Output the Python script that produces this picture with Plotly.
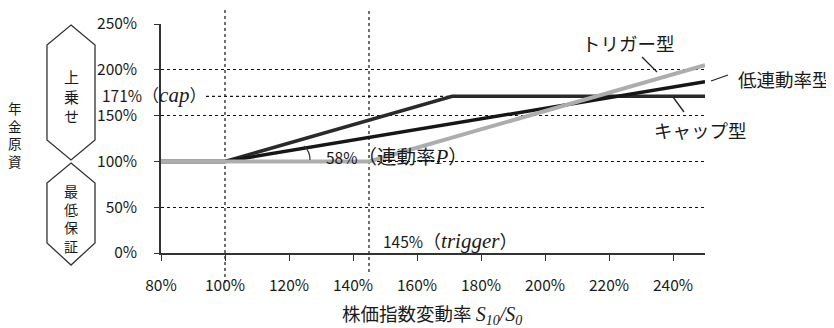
import plotly.graph_objects as go

# ---------------- data (percent) ----------------
cap_x = [80, 100, 171, 250]
cap_y = [100, 100, 171, 171]
low_x = [80, 100, 250]
low_y = [100, 100, 187]
trig_x = [80, 145, 250]
trig_y = [100, 100, 205]

x_ticks = [80, 100, 120, 140, 160, 180, 200, 220, 240]
x_ticklabels = ["80%", "100%", "120%", "140%", "160%", "180%", "200%", "220%", "240%"]
y_ticks = [0, 50, 100, 150, 200, 250]
y_ticklabels = ["0%", "50%", "100%", "150%", "200%", "250%"]

CAP_LEVEL = 171
TRIGGER_LEVEL = 145
BASE_LEVEL = 100

# ---------------- layout constants ----------------
PAGE_OFF = 8                      # default body margin of the html page
W, H = 834 - PAGE_OFF, 328 - PAGE_OFF
PLOT_X0, PLOT_X1 = 161, 705       # plot area in window pixels
PLOT_Y0, PLOT_Y1 = 24, 253
L = PLOT_X0 - PAGE_OFF
T = PLOT_Y0 - PAGE_OFF
PW = PLOT_X1 - PLOT_X0
PH = PLOT_Y1 - PLOT_Y0
R = W - L - PW
B = H - T - PH
X_RANGE = [80, 250]

def px(x):
    return (x - PLOT_X0) / PW

def py(y):
    return (PLOT_Y1 - y) / PH

FONT = "Noto Sans CJK JP, Noto Sans, sans-serif"
SERIF = "Liberation Serif, DejaVu Serif, serif"
TXT = "#1a1a1a"

def serif_it(s, size):
    return f"<span style=\"font-family:{SERIF};font-size:{size}px\"><i>{s}</i></span>"

def sized(s, size):
    return f"<span style=\"font-size:{size}px\">{s}</span>"

fig = go.Figure()
fig.add_trace(go.Scatter(x=cap_x, y=cap_y, mode="lines",
                         line=dict(color="#2a2a2a", width=3.5), name="キャップ型"))
fig.add_trace(go.Scatter(x=low_x, y=low_y, mode="lines",
                         line=dict(color="#161616", width=3.5), name="低連動率型"))
fig.add_trace(go.Scatter(x=trig_x, y=trig_y, mode="lines",
                         line=dict(color="#adadad", width=4), name="トリガー型"))

shapes = []
dash = "3px,3px"
# vertical reference lines (extend beyond the plot area)
shapes.append(dict(type="line", xref="x", yref="paper", x0=BASE_LEVEL, x1=BASE_LEVEL,
                   y0=py(283), y1=py(10), line=dict(color="#111", width=1.2, dash=dash), layer="below"))
shapes.append(dict(type="line", xref="x", yref="paper", x0=TRIGGER_LEVEL, x1=TRIGGER_LEVEL,
                   y0=py(272), y1=py(10), line=dict(color="#111", width=1.2, dash=dash), layer="below"))
# cap reference line
shapes.append(dict(type="line", xref="paper", yref="y", x0=px(206),
                   x1=(CAP_LEVEL - X_RANGE[0]) / (X_RANGE[1] - X_RANGE[0]),
                   y0=CAP_LEVEL, y1=CAP_LEVEL, line=dict(color="#111", width=1.2, dash=dash), layer="below"))

# hexagons on the left
def hexagon(xl, xr, ytop, yshoulder1, yshoulder2, ybot):
    xm = (xl + xr) / 2
    pts = [(xm, ytop), (xr, yshoulder1), (xr, yshoulder2), (xm, ybot), (xl, yshoulder2), (xl, yshoulder1)]
    path = "M " + " L ".join(f"{px(a):.4f},{py(b):.4f}" for a, b in pts) + " Z"
    return dict(type="path", xref="paper", yref="paper", path=path,
                line=dict(color="#333", width=1.3), fillcolor="rgba(0,0,0,0)")

shapes.append(hexagon(47, 95, 25, 45, 140, 160))
shapes.append(hexagon(47, 95, 163, 183, 243, 265))

# leader lines for series labels
def seg(x0, y0, x1, y1):
    return dict(type="line", xref="paper", yref="paper", x0=px(x0), y0=py(y0), x1=px(x1), y1=py(y1),
                line=dict(color="#222", width=1.3))

shapes.append(seg(642, 57, 657, 72))
shapes.append(seg(711, 81, 728, 75))
shapes.append(seg(673, 97, 684, 112))

# small angle arc for participation rate
shapes.append(dict(type="path", xref="paper", yref="paper",
                   path=f"M {px(304):.4f},{py(146):.4f} Q {px(310):.4f},{py(151):.4f} {px(310):.4f},{py(160):.4f}",
                   line=dict(color="#333", width=1.2)))

ann = []
def text(x, y, s, size=14, xanchor="center", yanchor="middle", font=FONT):
    ann.append(dict(xref="paper", yref="paper", x=px(x), y=py(y), text=s, showarrow=False,
                    xanchor=xanchor, yanchor=yanchor, font=dict(family=font, size=size, color=TXT)))

text(15, 134, "<br>".join("年金原資"), size=13.5)
text(71, 96, "<br>".join("上乗せ"), size=15)
text(71, 218, "<br>".join("最低保証"), size=14)

text(100, 94, f"{CAP_LEVEL}%" + sized("（", 17) + serif_it("cap", 21) + sized("）", 17), size=15.5, xanchor="left")
text(324, 155, "58%" + sized("（連動率", 19.5) + serif_it("P", 21) + sized("）", 19.5), size=15.5, xanchor="left")
text(381, 240, f"{TRIGGER_LEVEL}%" + sized("（", 18) + serif_it("trigger", 21) + sized("）", 18), size=15.5, xanchor="left")
text(628, 43, "トリガー型", size=18.5)
text(736, 79, "低連動率型", size=18.5, xanchor="left")
text(700, 130, "キャップ型", size=18.5)
text(432, 314, "株価指数変動率 " + serif_it("S<sub>10</sub>/S<sub>0</sub>", 20), size=18.5)

fig.update_layout(
    template="none",
    width=W, height=H, autosize=False,
    margin=dict(l=L, r=R, t=T, b=B, autoexpand=False),
    paper_bgcolor="white", plot_bgcolor="white",
    showlegend=False,
    font=dict(family=FONT, size=15.5, color=TXT),
    shapes=shapes, annotations=ann,
    xaxis=dict(range=X_RANGE, tickvals=x_ticks, ticktext=x_ticklabels, automargin=False,
               showgrid=False, zeroline=False, showline=True, linecolor="#333", linewidth=1.5,
               ticks="outside", ticklen=6, tickcolor="#333", tickwidth=1.2,
               ticklabelstandoff=12),
    yaxis=dict(range=[0, 250], tickvals=y_ticks, ticktext=y_ticklabels, automargin=False,
               showgrid=True, gridcolor="#111", gridwidth=1.1, griddash=dash,
               zeroline=False, showline=True, linecolor="#333", linewidth=1.5,
               ticks="outside", ticklen=5, tickcolor="#333", tickwidth=1.2,
               ticklabelstandoff=14),
)

fig.write_html("out.html")
